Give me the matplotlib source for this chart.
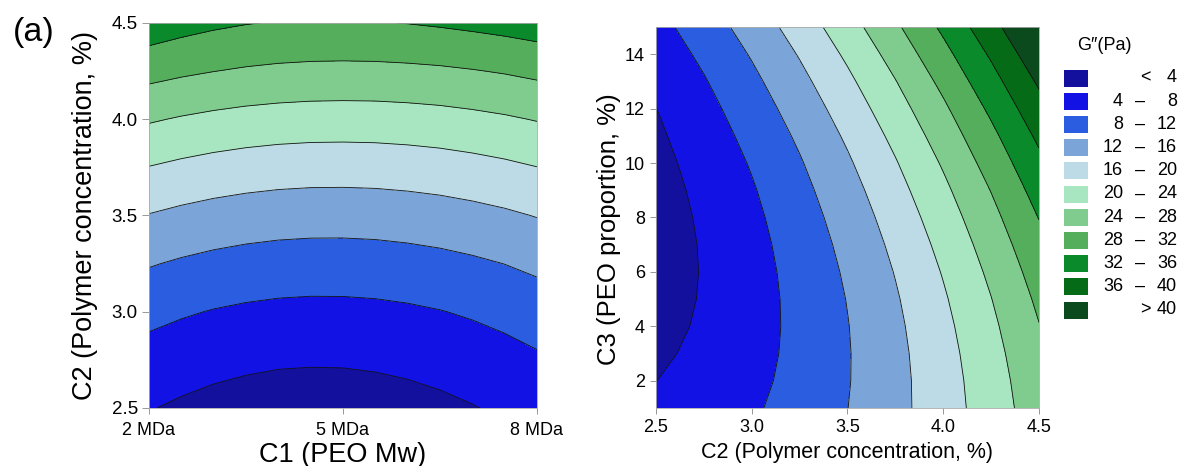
import matplotlib
matplotlib.use("Agg")
import matplotlib.pyplot as plt
from matplotlib.patches import Rectangle
import numpy as np

plt.rcParams['font.family'] = ['Liberation Sans', 'DejaVu Sans']

# left panel: G'' over C1 (PEO Mw, MDa) x C2 (polymer concentration, %)
c1_mw = [2, 2.5, 3, 3.5, 4, 4.5, 5, 5.5, 6, 6.5, 7, 7.5, 8]
c2_left = [2.5, 2.75, 3.0, 3.25, 3.5, 3.75, 4.0, 4.25, 4.5]
g_left = [
    [4.18, 3.46, 2.88, 2.48, 2.21, 2.12, 2.17, 2.38, 2.72, 3.21, 3.83, 4.59, 5.48],
    [6.43, 5.71, 5.13, 4.72, 4.44, 4.34, 4.37, 4.55, 4.87, 5.32, 5.91, 6.63, 7.48],
    [9.12, 8.40, 7.82, 7.40, 7.12, 7.00, 7.02, 7.17, 7.46, 7.88, 8.43, 9.11, 9.92],
    [12.26, 11.55, 10.97, 10.54, 10.25, 10.11, 10.11, 10.24, 10.51, 10.89, 11.41, 12.04, 12.81],
    [15.85, 15.14, 14.56, 14.13, 13.83, 13.68, 13.66, 13.76, 14.00, 14.35, 14.83, 15.42, 16.15],
    [19.90, 19.19, 18.61, 18.17, 17.86, 17.69, 17.66, 17.74, 17.95, 18.26, 18.71, 19.26, 19.95],
    [24.39, 23.68, 23.10, 22.65, 22.34, 22.16, 22.11, 22.16, 22.34, 22.62, 23.03, 23.54, 24.19],
    [29.33, 28.62, 28.05, 27.59, 27.27, 27.07, 27.00, 27.03, 27.19, 27.43, 27.81, 28.28, 28.88],
    [34.40, 33.45, 32.70, 32.15, 31.80, 31.70, 31.70, 31.85, 32.08, 32.45, 32.90, 33.40, 34.00],
]

# right panel: G'' over C2 (polymer concentration, %) x C3 (PEO proportion, %)
c2_right = [2.5, 2.75, 3.0, 3.25, 3.5, 3.75, 4.0, 4.25, 4.5]
c3_prop = [1, 2, 3, 4, 5, 6, 7, 8, 9, 10, 11, 12, 13, 14, 15]
g_right = [
    [4.77, 5.91, 7.49, 9.51, 11.96, 14.85, 18.18, 21.95, 26.15],
    [3.97, 5.29, 7.02, 9.19, 11.79, 14.83, 18.31, 22.23, 26.58],
    [3.37, 4.81, 6.69, 9.01, 11.76, 14.95, 18.58, 22.65, 27.15],
    [2.88, 4.47, 6.50, 8.97, 11.87, 15.21, 18.99, 23.21, 27.87],
    [2.53, 4.27, 6.45, 9.07, 12.12, 15.61, 19.54, 23.91, 28.72],
    [2.32, 4.21, 6.54, 9.31, 12.51, 16.16, 20.24, 24.75, 29.71],
    [2.25, 4.29, 6.77, 9.69, 13.04, 16.84, 21.07, 25.73, 30.84],
    [2.32, 4.51, 7.14, 10.21, 13.71, 17.66, 22.04, 26.85, 32.11],
    [2.53, 4.87, 7.65, 10.87, 14.52, 18.62, 23.15, 28.11, 33.52],
    [2.88, 5.37, 8.30, 11.67, 15.48, 19.72, 24.40, 29.52, 35.07],
    [3.37, 6.01, 9.09, 12.61, 16.57, 20.96, 25.79, 31.06, 36.76],
    [3.95, 6.79, 10.02, 13.69, 17.80, 22.34, 27.32, 32.74, 38.59],
    [4.77, 7.71, 11.09, 14.91, 19.17, 23.86, 28.99, 34.56, 40.56],
    [5.68, 8.77, 12.30, 16.27, 20.68, 25.52, 30.80, 36.52, 42.68],
    [6.73, 9.97, 13.65, 17.77, 22.33, 27.32, 32.75, 38.62, 44.93],
]

levels = [4, 8, 12, 16, 20, 24, 28, 32, 36, 40]
band_colors = ['#14109e', '#1212e4', '#2a5de0', '#7ba4d8', '#bcdbe6', '#a7e6c0',
               '#80cc8f', '#55ae5c', '#0b8a2b', '#056b17', '#0b4a1c']
band_lo = ['<', '4', '8', '12', '16', '20', '24', '28', '32', '36', '>']
band_hi = ['4', '8', '12', '16', '20', '24', '28', '32', '36', '40', '40']

bounds = [0] + levels + [60]

fig = plt.figure(figsize=(11.89, 4.66), dpi=100)

# ---- left panel
ax1 = fig.add_axes([0.1253, 0.1245, 0.3263, 0.8262])
X, Y = np.meshgrid(c1_mw, c2_left)
Z = np.array(g_left)
ax1.contourf(X, Y, Z, levels=bounds, colors=band_colors)
ax1.contour(X, Y, Z, levels=levels, colors='#111111', linewidths=0.6)
ax1.set_xlim(2, 8)
ax1.set_ylim(2.5, 4.5)
ax1.set_xticks([2, 5, 8])
ax1.set_xticklabels(['2 MDa', '5 MDa', '8 MDa'])
ax1.set_yticks([2.5, 3.0, 3.5, 4.0, 4.5])
ax1.set_yticklabels(['2.5', '3.0', '3.5', '4.0', '4.5'])
ax1.tick_params(axis='y', labelsize=13.5, length=5, pad=3)
ax1.tick_params(axis='x', labelsize=13, length=4, pad=6)
ax1.tick_params(width=0.6, color='#888888')
ax1.set_xlabel('C1 (PEO Mw)', fontsize=19.5)
ax1.xaxis.set_label_coords(0.5, -0.088)
ax1.set_ylabel('C2 (Polymer concentration, %)', fontsize=19.5)
ax1.yaxis.set_label_coords(-0.131, 0.5)
for s in ax1.spines.values():
    s.set_color('#aaaaaa')
    s.set_linewidth(0.6)

# ---- right panel
ax2 = fig.add_axes([0.5517, 0.1245, 0.3221, 0.8176])
X2, Y2 = np.meshgrid(c2_right, c3_prop)
Z2 = np.array(g_right)
ax2.contourf(X2, Y2, Z2, levels=bounds, colors=band_colors)
ax2.contour(X2, Y2, Z2, levels=levels, colors='#111111', linewidths=0.6)
ax2.set_xlim(2.5, 4.5)
ax2.set_ylim(1, 15)
ax2.set_xticks([2.5, 3.0, 3.5, 4.0, 4.5])
ax2.set_xticklabels(['2.5', '3.0', '3.5', '4.0', '4.5'])
ax2.set_yticks([2, 4, 6, 8, 10, 12, 14])
ax2.tick_params(labelsize=13, length=4, pad=4, width=0.6, color='#888888')
ax2.set_xlabel('C2 (Polymer concentration, %)', fontsize=15.5)
ax2.xaxis.set_label_coords(0.5, -0.088)
ax2.set_ylabel('C3 (PEO proportion, %)', fontsize=18.5)
ax2.yaxis.set_label_coords(-0.091, 0.47)
for s in ax2.spines.values():
    s.set_color('#aaaaaa')
    s.set_linewidth(0.6)

fig.text(0.011, 1 - 32.5 / 466, '(a)', fontsize=24.5, va='center')

# ---- legend
W, H = 1189.0, 466.0
fig.text(1104 / W, 1 - 45 / H, 'G\u2033(Pa)', fontsize=13, ha='center', va='center')
for i, c in enumerate(band_colors):
    yc = 78 + i * 23.2
    fig.patches.append(Rectangle((1064 / W, 1 - (yc + 8.5) / H), 24 / W, 17 / H,
                                 transform=fig.transFigure, facecolor=c, edgecolor='none'))
    if band_lo[i] in ('<', '>'):
        fig.text(1151 / W, 1 - yc / H, band_lo[i], fontsize=13, ha='right', va='center')
    else:
        fig.text(1123 / W, 1 - yc / H, band_lo[i], fontsize=13, ha='right', va='center')
        fig.text(1140 / W, 1 - yc / H, '\u2013', fontsize=13, ha='center', va='center')
    fig.text(1177 / W, 1 - yc / H, band_hi[i], fontsize=13, ha='right', va='center')

fig.savefig('out.png', dpi=100)
